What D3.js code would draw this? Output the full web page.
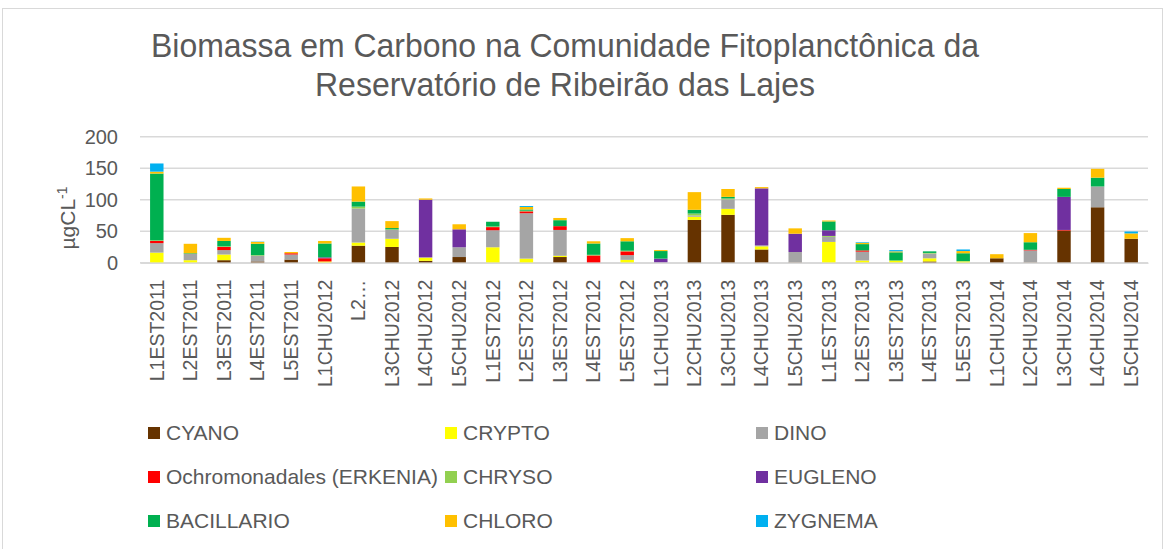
<!DOCTYPE html>
<html>
<head>
<meta charset="utf-8">
<style>
  body { margin: 0; background: #fff; }
  svg text { fill: #595959; }
</style>
<title>Biomassa em Carbono</title>
</head>
<body>
<script src="https://cdn.jsdelivr.net/npm/d3@7/dist/d3.min.js"></script>
<script>
// categories (sampling point + season + year)
const categories = ["L1EST2011","L2EST2011","L3EST2011","L4EST2011","L5EST2011","L1CHU2012","L2CHU2012","L3CHU2012","L4CHU2012","L5CHU2012",
  "L1EST2012","L2EST2012","L3EST2012","L4EST2012","L5EST2012","L1CHU2013","L2CHU2013","L3CHU2013","L4CHU2013","L5CHU2013",
  "L1EST2013","L2EST2013","L3EST2013","L4EST2013","L5EST2013","L1CHU2014","L2CHU2014","L3CHU2014","L4CHU2014","L5CHU2014"];

// series values (µgC/L)
const cyano      = [0,0,4,2,5,0,27,25,3,9, 0,0,9,0,0,0,68,76,21,0.5, 0,0,0,2,0,7,0.5,51,88,38];
const crypto     = [16,4,9,0,0,2,5,13,5,0, 24.5,6.5,2,0,4.5,0,5,9.5,5,0, 33,3.5,3.5,5,2,0,0,0,0,0];
const dino       = [15,10,7,9,8,0,54,14,0.5,15.5, 27,72,41,0,7.5,0.5,2,15,1.5,16.5, 8,14,0,7.5,0,0,19,0,33,0];
const ochro      = [3.5,0,5,0,2,5,0,0,0,0, 5,3,6,11.5,6,0,0,0,0,0, 0,2,0,0,0,0,1,1,0,0];
const chryso     = [1,0,1,1,0,0,3,1,0,0, 1,1,0,1,1,0,3,1.5,0,0, 1.5,0,0,1,0.5,0,0,0,0,0];
const eugleno    = [0,0,0,0,0,1.5,0,0,91.5,28.5, 0,0,0,0,0,6,0,0,90.5,29, 9,0,0,0,0,0,0,52.5,0,0];
const bacillario = [106,1,8.5,18,0,22,8,2,0,0, 7.5,2,9.5,18,15,12,6,2.5,0,0, 14,10,13,2.5,12.5,0,12,12.5,14,0];
const chloro     = [3,15,5,3,2,4,24,11,2,8, 0,4,3.5,3.5,5,1.5,28,12.5,2,8.5, 1.5,2,1.5,0,3.5,6.5,14.5,2,14,8.5];
const zygnema    = [13,0,0,0.5,0,0,0,0,0,0, 0,1.5,0,0,0,0,0,0,0,0, 0,1,2,0,2.5,0,0,0,0,3];

const seriesNames = ["CYANO","CRYPTO","DINO","Ochromonadales (ERKENIA)","CHRYSO","EUGLENO","BACILLARIO","CHLORO","ZYGNEMA"];
const seriesValues = [cyano, crypto, dino, ochro, chryso, eugleno, bacillario, chloro, zygnema];
const colors = ["#663300","#FFFF00","#A5A5A5","#FF0000","#92D050","#7030A0","#00B050","#FFC000","#00B0F0"];
const yTicks = [0,50,100,150,200];

// build table for the stack
const table = categories.map(function(c, i) {
  const row = {cat: c};
  seriesNames.forEach(function(s, j) { row[s] = seriesValues[j][i]; });
  return row;
});

const W = 1169, H = 549;
const plot = {left: 140, right: 1148, top: 136.7, bottom: 262.7};

const svg = d3.select("body").append("svg")
  .attr("width", W).attr("height", H)
  .style("font-family", "'Liberation Sans', Arial, sans-serif");

// chart border
svg.append("rect")
  .attr("x", 2.5).attr("y", 8.5).attr("width", 1160).attr("height", 560)
  .attr("fill", "none").attr("stroke", "#d9d9d9").attr("stroke-width", 1);

// title (narrow look, squeezed to the reference width)
const title = svg.append("text")
  .attr("text-anchor", "middle")
  .style("font-size", "34px");
title.append("tspan").attr("x", 565).attr("y", 57)
  .attr("textLength", 828).attr("lengthAdjust", "spacingAndGlyphs")
  .text("Biomassa em Carbono na Comunidade Fitoplanctônica da");
title.append("tspan").attr("x", 565).attr("y", 96)
  .attr("textLength", 500).attr("lengthAdjust", "spacingAndGlyphs")
  .text("Reservatório de Ribeirão das Lajes");

const x = d3.scaleBand().domain(categories).range([plot.left, plot.right]).paddingInner(0.6).paddingOuter(0.3);
const y = d3.scaleLinear().domain([0, 200]).range([plot.bottom, plot.top]);

// gridlines
svg.append("g")
  .selectAll("line")
  .data(yTicks)
  .enter().append("line")
  .attr("x1", plot.left).attr("x2", plot.right)
  .attr("y1", function(d) { return y(d); }).attr("y2", function(d) { return y(d); })
  .attr("stroke", "#d9d9d9").attr("stroke-width", 1.5);

// stacked bars
const stack = d3.stack().keys(seriesNames)(table);
svg.append("g")
  .selectAll("g")
  .data(stack)
  .enter().append("g")
  .attr("fill", function(d, i) { return colors[i]; })
  .selectAll("rect")
  .data(function(d) { return d; })
  .enter().append("rect")
  .attr("x", function(d) { return x(d.data.cat); })
  .attr("width", x.bandwidth())
  .attr("y", function(d) { return y(d[1]); })
  .attr("height", function(d) { return y(d[0]) - y(d[1]); });

// y axis
const yAxis = svg.append("g")
  .attr("transform", "translate(" + plot.left + ",0)")
  .call(d3.axisLeft(y).tickValues(yTicks).tickSize(0).tickPadding(22));
yAxis.select(".domain").remove();
yAxis.selectAll("text").style("font-size", "20px").style("fill", "#595959");

// y axis title
const yt = svg.append("text")
  .attr("transform", "translate(75,218) rotate(-90)")
  .attr("text-anchor", "middle")
  .style("font-size", "21px");
yt.append("tspan").text("µgCL");
yt.append("tspan").attr("dy", -8).style("font-size", "14px").text("-1");

// x axis
const xAxis = svg.append("g")
  .attr("transform", "translate(0," + plot.bottom + ")")
  .call(d3.axisBottom(x).tickSize(0).tickFormat(function(d) { return d === "L2CHU2012" ? "L2…" : d; }));
xAxis.select(".domain").attr("stroke", "#d9d9d9").attr("stroke-width", 1.5);
xAxis.selectAll("text")
  .attr("transform", "rotate(-90)")
  .attr("text-anchor", "end")
  .attr("x", -17).attr("y", 0).attr("dy", "0.35em")
  .style("font-size", "19.5px").style("fill", "#595959");

// legend
const legendX = [148, 445, 756];
const legendY = [433, 477, 521];
const legend = svg.append("g")
  .selectAll("g")
  .data(seriesNames)
  .enter().append("g")
  .attr("transform", function(d, i) { return "translate(" + legendX[i % 3] + "," + legendY[Math.floor(i / 3)] + ")"; });
legend.append("rect")
  .attr("x", 0).attr("y", -6).attr("width", 12).attr("height", 12)
  .attr("fill", function(d, i) { return colors[i]; });
legend.append("text")
  .attr("x", 18).attr("y", 0).attr("dy", "0.35em")
  .style("font-size", "21px")
  .text(function(d) { return d; });
</script>
</body>
</html>
